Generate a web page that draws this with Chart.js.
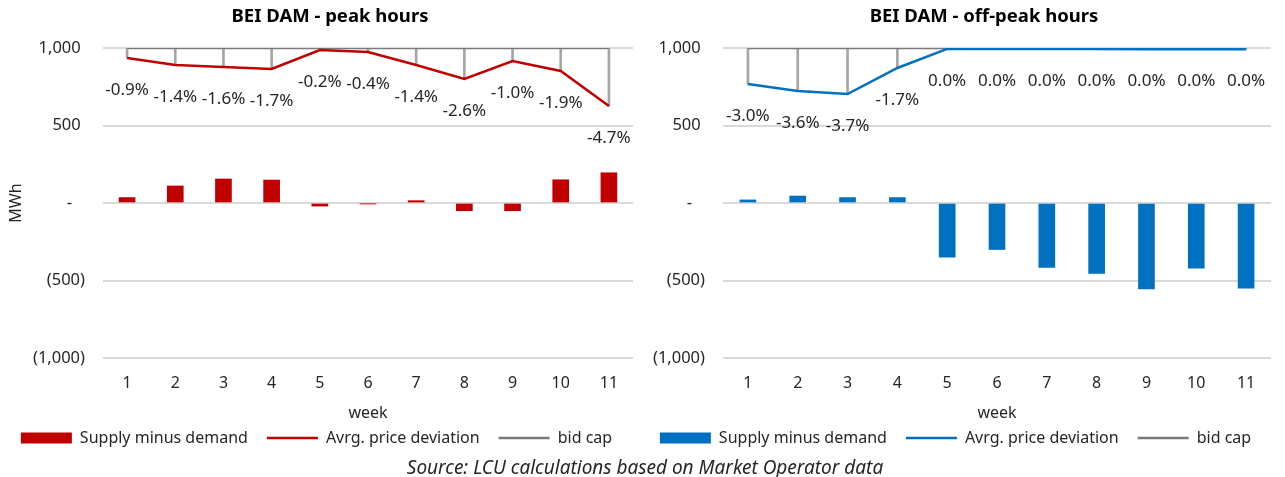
<!DOCTYPE html>
<html>
<head>
<meta charset="utf-8">
<script src="https://cdn.jsdelivr.net/npm/chart.js@4.4.0/dist/chart.umd.min.js"></script>
<style>
  body { margin: 0; background: #fff; }
  #wrap { position: relative; width: 1285px; height: 477px; overflow: hidden; }
  .box { position: absolute; top: 0; }
  #source {
    position: absolute; left: 0; width: 1290px; top: 454px; line-height: 20px;
    text-align: center; font: italic 19px "Noto Sans", sans-serif; color: #262626;
  }
</style>
</head>
<body>
<div id="wrap">
  <div class="box" style="left:0px"><canvas id="peak" width="640" height="456"></canvas></div>
  <div class="box" style="left:640px"><canvas id="offpeak" width="645" height="456"></canvas></div>
  <div id="source">Source: LCU calculations based on Market Operator data</div>
</div>
<script>
// valori
const weeks = ["1", "2", "3", "4", "5", "6", "7", "8", "9", "10", "11"];
const bidCap = [1000, 1000, 1000, 1000, 1000, 1000, 1000, 1000, 1000, 1000, 1000];

const peakSupply = [35, 110, 155, 148, -20, -5, 15, -50, -50, 150, 195];
const peakPrice = [935, 890, 877, 865, 987, 974, 890, 800, 916, 852, 626];
const peakDev = [-0.9, -1.4, -1.6, -1.7, -0.2, -0.4, -1.4, -2.6, -1.0, -1.9, -4.7];

const offSupply = [20, 45, 35, 35, -350, -300, -415, -455, -555, -420, -550];
const offPrice = [768, 723, 703, 871, 994, 993, 993, 993, 992, 992, 992];
const offDev = [-3.0, -3.6, -3.7, -1.7, 0.0, 0.0, 0.0, 0.0, 0.0, 0.0, 0.0];

const FONT = '"Noto Sans", sans-serif';
const TXT = "#262626";

function fmtAxis(v) {
  if (v === 0) return "-   ";
  var s = Math.abs(v).toLocaleString("en-US");
  return v < 0 ? "(" + s + ")" : s + " ";
}

// etichette % sotto la linea + titolo
const extraText = {
  id: "extraText",
  afterDatasetsDraw(chart, args, opts) {
    const ctx = chart.ctx;
    const meta = chart.getDatasetMeta(1);
    ctx.save();
    ctx.fillStyle = TXT;
    ctx.textAlign = "center";
    ctx.textBaseline = "middle";
    ctx.font = "17px " + FONT;
    meta.data.forEach(function (pt, i) {
      ctx.fillText(opts.dev[i].toFixed(1) + "%", pt.x, pt.y + 32);
    });
    ctx.font = "bold 18.5px " + FONT;
    ctx.fillStyle = "#000";
    ctx.fillText(opts.title, opts.titleX, 17);
    ctx.restore();
  }
};

function makeChart(id, o) {
  return new Chart(document.getElementById(id), {
    type: "bar",
    data: {
      labels: weeks,
      datasets: [
        {
          type: "bar",
          label: "Supply minus demand",
          data: o.supply,
          backgroundColor: o.color,
          borderWidth: 0,
          grouped: false,
          barThickness: 16
        },
        {
          type: "line",
          label: "Avrg. price deviation",
          data: o.price,
          borderColor: o.color,
          backgroundColor: o.color,
          borderWidth: 2.5,
          pointRadius: 0,
          tension: 0,
          fill: false
        },
        {
          type: "line",
          label: "bid cap",
          data: bidCap,
          borderColor: "#7a7a7a",
          backgroundColor: "#7a7a7a",
          borderWidth: 2.5,
          pointRadius: 0,
          fill: false
        },
        {
          type: "bar",
          label: "drop",
          data: o.price.map(function (v, i) { return [v, bidCap[i]]; }),
          backgroundColor: "#a6a6a6",
          borderWidth: 0,
          grouped: false,
          barThickness: 2
        }
      ]
    },
    options: {
      responsive: false,
      animation: false,
      layout: { padding: { top: 48, right: o.padRight, left: 0, bottom: 0 } },
      scales: {
        x: {
          afterFit: function (scale) { scale.height = 53; },
          grid: { display: false, drawTicks: false },
          border: { display: false },
          ticks: { color: TXT, font: { family: FONT, size: 16 }, padding: 16 },
          title: {
            display: true,
            text: "week",
            color: TXT,
            font: { family: FONT, size: 16 },
            padding: { top: 10, bottom: -12 }
          }
        },
        y: {
          min: -1000,
          max: 1000,
          afterFit: function (scale) { scale.width = o.axisWidth; },
          grid: { color: "#d9d9d9", lineWidth: 2, drawTicks: false },
          border: { display: false },
          ticks: {
            stepSize: 500,
            color: TXT,
            padding: 18,
            font: { family: FONT, size: 16.5 },
            callback: function (v) { return fmtAxis(v); }
          },
          title: {
            display: o.yTitle,
            text: "MWh",
            color: TXT,
            font: { family: FONT, size: 16 },
            padding: { top: 7, bottom: 0 }
          }
        }
      },
      plugins: {
        tooltip: { enabled: false },
        legend: {
          position: "bottom",
          labels: {
            usePointStyle: true,
            pointStyleWidth: 51,
            boxHeight: 11,
            padding: 19,
            color: TXT,
            font: { family: FONT, size: 16 },
            filter: function (item) { return item.text !== "drop"; },
            generateLabels: function (chart) {
              var items = Chart.defaults.plugins.legend.labels.generateLabels(chart);
              items.forEach(function (it) {
                it.pointStyle = it.datasetIndex === 0 ? "rect" : "line";
              });
              return items;
            }
          }
        },
        extraText: { dev: o.dev, title: o.title, titleX: o.titleX }
      }
    },
    plugins: [extraText]
  });
}

makeChart("peak", {
  supply: peakSupply, price: peakPrice, dev: peakDev, color: "#c00000",
  title: "BEI DAM - peak hours", titleX: 330,
  axisWidth: 103, padRight: 7, yTitle: true
});
makeChart("offpeak", {
  supply: offSupply, price: offPrice, dev: offDev, color: "#0070c0",
  title: "BEI DAM - off-peak hours", titleX: 344,
  axisWidth: 83, padRight: 14, yTitle: false
});
</script>
</body>
</html>
